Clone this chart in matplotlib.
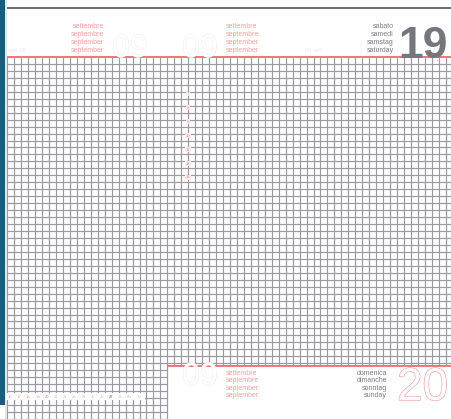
import matplotlib.pyplot as plt
import matplotlib.patheffects as pe
import numpy as np

# page contents
months = ['settembre', 'septembre', 'september', 'september']
day1_names = ['sabato', 'samedi', 'samstag', 'saturday']
day2_names = ['domenica', 'dimanche', 'sonntag', 'sunday']
day1_num = '19'
day2_num = '20'
month_num = '09'
hours = ['7', '8', '9', '10', '11', '12', '13']
strip_days = list(range(16, 31))
strip_marked = [16, 17, 18, 19, 20]

W, H = 452, 419
PX = 72 / 100  # points per pixel

fig = plt.figure(figsize=(W / 100, H / 100), dpi=100)
ax = fig.add_axes([0, 0, 1, 1])
ax.set_xlim(0, W)
ax.set_ylim(H, 0)
ax.axis('off')
plt.rcParams['font.family'] = ['Liberation Sans', 'DejaVu Sans']

pink = '#f2a0a0'
red = '#f07878'
gray_txt = '#7c7c84'
grid_c = '#9a9aa2'

# grid of the page
step = 6.96
xs = 7.3 + step * np.arange(64)
ys = 57 + step * np.arange(1, 53)
split_x = xs[23]
for x in xs:
    bottom = H if x <= split_x + 0.1 else 366
    ax.plot([x, x], [57, bottom], color=grid_c, lw=1.2 * PX, solid_capstyle='butt')
for y in ys:
    right = W if y < 366 else split_x
    ax.plot([6, right], [y, y], color=grid_c, lw=1.2 * PX, solid_capstyle='butt')

# binding strip on the left
ax.add_patch(plt.Rectangle((0, 0), 5.5, 405, color='#1e5a7c', lw=0, zorder=5))
ax.add_patch(plt.Rectangle((5.5, 0), 1.5, H, color='#e6e6ea', lw=0, zorder=4))

# rules
ax.plot([5.5, W], [8, 8], color='#6e6e70', lw=2 * PX, solid_capstyle='butt')
ax.plot([6, W], [57, 57], color=red, lw=2 * PX, solid_capstyle='butt', zorder=3)
ax.plot([split_x, W], [366, 366], color=red, lw=2 * PX, solid_capstyle='butt', zorder=3)

# top header
for i, m in enumerate(months):
    y = 26 + 8.1 * i
    ax.text(104, y, m, color=pink, fontsize=5, ha='right', va='center')
    ax.text(226, y, m, color=pink, fontsize=5, ha='left', va='center')
for i, d in enumerate(day1_names):
    ax.text(394, 26 + 8.1 * i, d, color=gray_txt, fontsize=5, ha='right', va='center')
ax.text(448, 57.5, day1_num, color='#75767e', fontsize=32, fontweight='bold',
        ha='right', va='baseline', zorder=6)

outline_light = [pe.withStroke(linewidth=0.6, foreground='#ececee')]
for cx in [130, 200]:
    ax.text(cx, 57, month_num, color='white', fontsize=23, ha='center', va='baseline',
            path_effects=outline_light, zorder=6)
ax.text(200, 385, month_num, color='white', fontsize=23, ha='center', va='baseline',
        path_effects=outline_light, zorder=6)

ax.text(8, 51, 'sett. 09', color='#e8e8ea', fontsize=4, ha='left', va='center')
ax.text(305, 51, '09 sett.', color='#e8e8ea', fontsize=4, ha='left', va='center')
ax.text(448, 61.5, '• ········', color='#a0a0a8', fontsize=2.5, ha='right', va='center')
ax.text(448, 361, '· ·······', color='#a0a0a8', fontsize=2.5, ha='right', va='center')

# hour marks
for i, h in enumerate(hours):
    ax.text(188, 94 + 13.9 * i, h, color='#ee8888', fontsize=3, ha='center', va='center',
            bbox=dict(facecolor='#fdecec', edgecolor='none', pad=0.3), zorder=6)

# bottom header
for i, m in enumerate(months):
    ax.text(226, 373.5 + 7.4 * i, m, color=pink, fontsize=5, ha='left', va='center')
for i, d in enumerate(day2_names):
    ax.text(387, 373.5 + 7.4 * i, d, color=gray_txt, fontsize=5, ha='right', va='center')
ax.text(448, 400, day2_num, color='white', fontsize=33, ha='right', va='baseline',
        path_effects=[pe.withStroke(linewidth=0.9, foreground=pink)], zorder=6)

# mini calendar strip
ax.add_patch(plt.Rectangle((6, 393), 139, 7, facecolor='white', edgecolor='none', zorder=6))
for i, d in enumerate(strip_days):
    if d in strip_marked:
        c = pink
    elif d == 27:
        c = '#8c8c94'
    else:
        c = '#c4c4ca'
    ax.text(10 + 9.2 * i, 396.7, str(d), color=c, fontsize=3, ha='center', va='center',
            fontweight='bold' if d in (20, 27) else 'normal', zorder=7)

fig.savefig('out.png', dpi=100)
